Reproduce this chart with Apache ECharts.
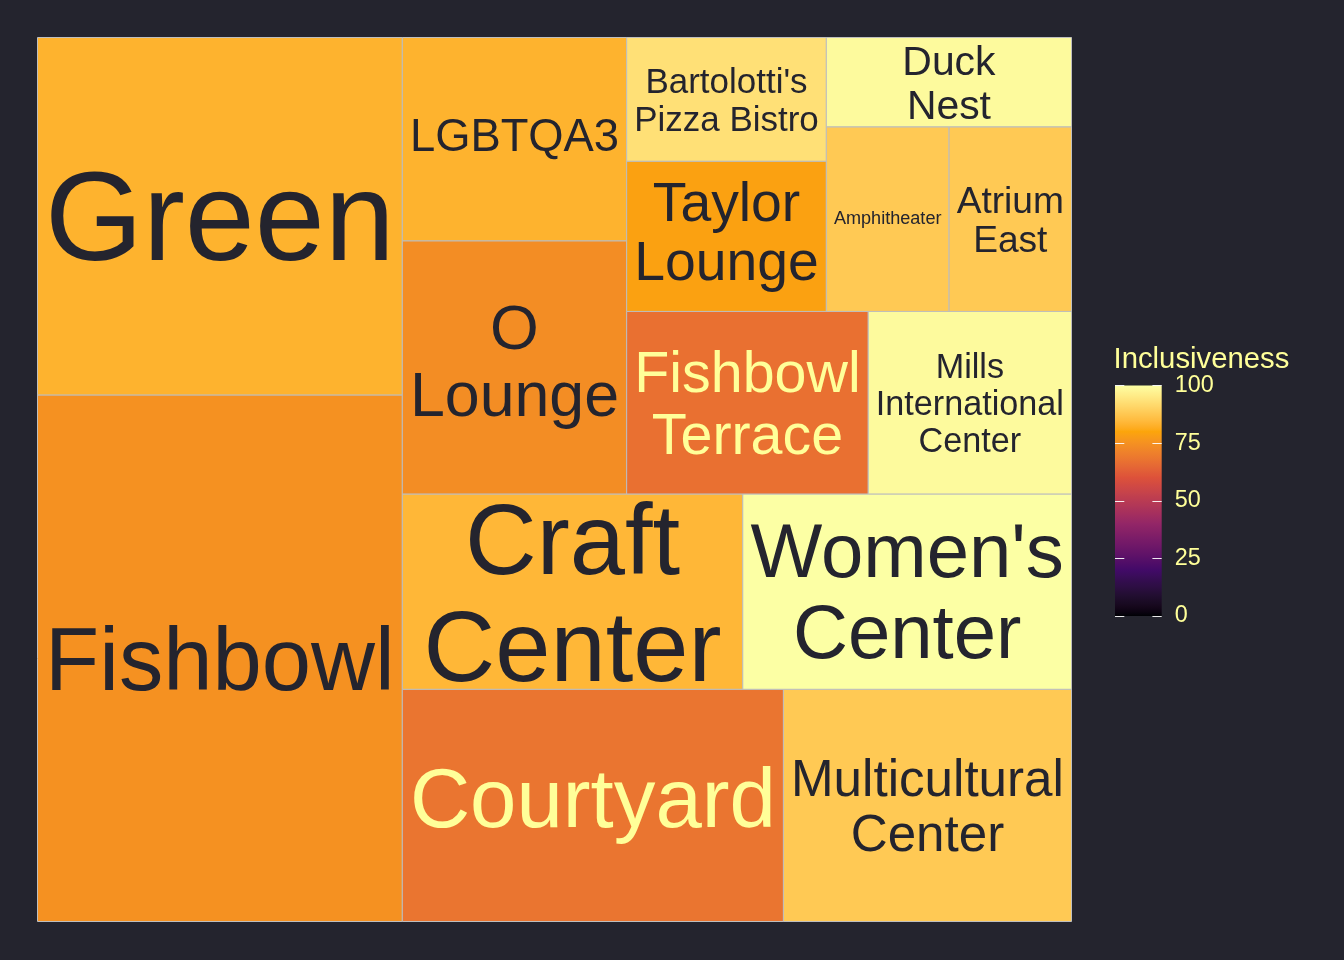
<!DOCTYPE html>
<html>
<head>
<meta charset="utf-8">
<script src="https://cdn.jsdelivr.net/npm/echarts@6/dist/echarts.min.js"></script>
<style>
html,body{margin:0;padding:0;background:#24242e;}
#chart{width:1344px;height:960px;}
</style>
</head>
<body>
<div id="chart"></div>
<script>
// ---------------- data ----------------
const places = ["Fishbowl", "Green", "Courtyard", "Multicultural Center", "Craft Center",
  "Women's Center", "O Lounge", "LGBTQA3", "Fishbowl Terrace", "Mills International Center",
  "Taylor Lounge", "Bartolotti's Pizza Bistro", "Amphitheater", "Atrium East", "Duck Nest"];
const displayLabels = ["Fishbowl", "Green", "Courtyard", "Multicultural\nCenter", "Craft\nCenter",
  "Women's\nCenter", "O\nLounge", "LGBTQA3", "Fishbowl\nTerrace", "Mills\nInternational\nCenter",
  "Taylor\nLounge", "Bartolotti's\nPizza Bistro", "Amphitheater", "Atrium\nEast", "Duck\nNest"];
const sizes = [192.1, 130.4, 88.5, 66.9, 66.5, 64.2, 56.8, 45.6, 44.1, 37.1, 30.0, 24.7, 22.65, 22.6, 21.9];
const inclusiveness = [75, 83, 68, 88, 84, 100, 74, 83, 67, 99, 79, 93, 88, 88, 99];
const legendTicks = [0, 25, 50, 75, 100];
const legendTitle = "Inclusiveness";
const infernoAnchors = ["#000004", "#420A68", "#932667", "#DD513A", "#FCA50A", "#FCFFA4"];

// ---------------- style ----------------
const BG = '#24242e';
const DARK_TEXT = '#24242e';
const LIGHT_TEXT = '#ffff99';
const FONT = '"Liberation Sans", Arial, Helvetica, sans-serif';
const PAD = 7.56;       // 1 mm at 192 dpi
const LINE_H = 1.075;   // line spacing in em

// ---------------- colour helpers (Lab interpolation like scales::gradient_n_pal) -------------
function hexToRgb(h){ h=h.replace('#',''); return [0,2,4].map(i=>parseInt(h.substr(i,2),16)); }
function s2l(c){ c/=255; return c<=0.04045? c/12.92 : Math.pow((c+0.055)/1.055,2.4); }
function l2s(c){ c = c<=0.0031308 ? 12.92*c : 1.055*Math.pow(Math.max(c,0),1/2.4)-0.055; return Math.round(Math.min(1,Math.max(0,c))*255); }
const WX=0.95047, WY=1.0, WZ=1.08883;
function rgbToLab(rgb){
  const [r,g,b]=rgb.map(s2l);
  const X=(0.4124564*r+0.3575761*g+0.1804375*b)/WX;
  const Y=(0.2126729*r+0.7151522*g+0.0721750*b)/WY;
  const Z=(0.0193339*r+0.1191920*g+0.9503041*b)/WZ;
  const f=t=> t>216/24389 ? Math.cbrt(t) : (24389/27*t+16)/116;
  const fx=f(X), fy=f(Y), fz=f(Z);
  return [116*fy-16, 500*(fx-fy), 200*(fy-fz)];
}
function labToRgb(lab){
  const [L,a,b]=lab;
  const fy=(L+16)/116, fx=fy+a/500, fz=fy-b/200;
  const inv=t=> t*t*t>216/24389 ? t*t*t : (116*t-16)/(24389/27);
  const X=inv(fx)*WX, Y=inv(fy)*WY, Z=inv(fz)*WZ;
  const r= 3.2404542*X-1.5371385*Y-0.4985314*Z;
  const g=-0.9692660*X+1.8760108*Y+0.0415560*Z;
  const bb=0.0556434*X-0.2040259*Y+1.0572252*Z;
  return [l2s(r),l2s(g),l2s(bb)];
}
const anchorLab = infernoAnchors.map(c=>rgbToLab(hexToRgb(c)));
function paletteAt(t){
  const n = anchorLab.length-1;
  const seg = Math.min(n-1, Math.floor(t*n));
  const u = t*n - seg;
  const A = anchorLab[seg], B = anchorLab[seg+1];
  const rgb = labToRgb([0,1,2].map(k=>A[k]+(B[k]-A[k])*u));
  return 'rgb('+rgb.join(',')+')';
}
const palette = [];
for (let i=0;i<=100;i++) palette.push(paletteAt(i/100));

// ---------------- squarified layout in unit square (origin bottom-left) ----------------
function squarify(values){
  const total = values.reduce((a,b)=>a+b,0);
  const order = values.map((v,i)=>i).sort((a,b)=>values[b]-values[a]);
  const areas = order.map(i=>values[i]/total);
  const out = new Array(values.length);
  let x=0, y=0, w=1, h=1, k=0;
  const worst=(row,side)=>{
    const s=row.reduce((a,b)=>a+b,0), mx=Math.max(...row), mn=Math.min(...row);
    return Math.max(side*side*mx/(s*s), s*s/(side*side*mn));
  };
  while (k < areas.length){
    const horizontal = w < h;
    const side = horizontal ? w : h;
    const row=[areas[k]]; let j=k+1;
    while (j < areas.length){
      const cand=row.concat([areas[j]]);
      if (worst(cand,side) <= worst(row,side)) { row.push(areas[j]); j++; } else break;
    }
    const s=row.reduce((a,b)=>a+b,0);
    const thick = s/side;
    let pos = horizontal ? x : y;
    row.forEach((a,r)=>{
      const len=a/thick, idx=order[k+r];
      out[idx] = horizontal ? [pos, y, pos+len, y+thick] : [x, pos, x+thick, pos+len];
      pos += len;
    });
    if (horizontal){ y+=thick; h-=thick; } else { x+=thick; w-=thick; }
    k=j;
  }
  return out;
}
const layout = squarify(sizes);
const tileData = places.map((p,i)=>({name:p, value:[layout[i][0], layout[i][1], layout[i][2], layout[i][3], inclusiveness[i], i]}));

// ---------------- text measuring ----------------
const mctx = document.createElement('canvas').getContext('2d');
function measure(line){
  mctx.font = '100px ' + FONT;
  mctx.textBaseline = 'alphabetic';
  const m = mctx.measureText(line);
  mctx.textBaseline = 'middle';
  const m2 = mctx.measureText(line);
  return {w:m.width/100, asc:m.actualBoundingBoxAscent/100, desc:Math.max(0,m.actualBoundingBoxDescent)/100,
          off:(m.actualBoundingBoxAscent - m2.actualBoundingBoxAscent)/100};
}

function renderTile(params, api){
  const i = api.value(5);
  const p0 = api.coord([api.value(0), api.value(1)]);
  const p1 = api.coord([api.value(2), api.value(3)]);
  const rx=p0[0], ry=p1[1], rw=p1[0]-p0[0], rh=p0[1]-p1[1];
  const fill = api.visual('color');
  const rgb = echarts.color.parse(fill);
  const L = rgbToLab([rgb[0],rgb[1],rgb[2]])[0];
  const textColor = L < 66 ? LIGHT_TEXT : DARK_TEXT;
  const lines = displayLabels[i].split('\n');
  const ms = lines.map(measure);
  const maxW = Math.max(...ms.map(m=>m.w));
  const inkH = ms[0].asc + (lines.length-1)*LINE_H + ms[ms.length-1].desc;
  const fs = Math.min((rw-2*PAD)/maxW, (rh-2*PAD)/inkH);
  const cx = rx+rw/2, cy = ry+rh/2;
  const top = cy - inkH*fs/2;
  const children = [{
    type:'rect', shape:{x:rx, y:ry, width:rw, height:rh},
    style:{fill:fill, stroke:'#bebebe', lineWidth:1}
  }];
  lines.forEach((ln,k)=>{
    const base = top + ms[0].asc*fs + k*LINE_H*fs;
    children.push({
      type:'text',
      style:{text:ln, x:cx, y:base - ms[k].off*fs, align:'center', verticalAlign:'middle',
             fontSize:fs, fontFamily:FONT, fill:textColor}
    });
  });
  return {type:'group', children};
}

function renderBar(params, api){
  const p0 = api.coord([0, legendTicks[0]]);
  const p1 = api.coord([1, legendTicks[legendTicks.length-1]]);
  const stops = palette.map((c,k)=>({offset:k/(palette.length-1), color:c}));
  return {type:'rect', shape:{x:p0[0], y:p1[1], width:p1[0]-p0[0], height:p0[1]-p1[1]},
          style:{fill:new echarts.graphic.LinearGradient(0,1,0,0,stops)}};
}

const chart = echarts.init(document.getElementById('chart'), null, {renderer:'canvas'});
const tickCommon = {show:true, inside:true, length:9.3, customValues:legendTicks, lineStyle:{color:'rgba(255,255,255,0.9)', width:1}};
chart.setOption({
  backgroundColor: BG,
  animation: false,
  title: {text: legendTitle, left: 1113.5, top: 345, padding: 0,
          textStyle: {color: LIGHT_TEXT, fontSize: 29.3, fontWeight: 'normal', fontFamily: FONT}},
  grid: [
    {left: 37.5, top: 37.5, width: 1034, height: 884},
    {left: 1115, top: 385.5, width: 46.7, height: 230.5}
  ],
  xAxis: [
    {type:'value', gridIndex:0, min:0, max:1, show:false},
    {type:'value', gridIndex:1, min:0, max:1, show:false}
  ],
  yAxis: [
    {type:'value', gridIndex:0, min:0, max:1, show:false},
    {type:'value', gridIndex:1, min:legendTicks[0], max:legendTicks[legendTicks.length-1], interval:25, position:'left', z:10,
     axisLine:{show:false}, splitLine:{show:false}, axisLabel:{show:false}, axisTick:tickCommon},
    {type:'value', gridIndex:1, min:legendTicks[0], max:legendTicks[legendTicks.length-1], interval:25, position:'right', z:10,
     axisLine:{show:false}, splitLine:{show:false}, axisTick:tickCommon,
     axisLabel:{show:true, customValues:legendTicks, margin:13, color:LIGHT_TEXT, fontSize:23.4, fontFamily:FONT,
                verticalAlign:'middle', lineHeight:23.4, padding:[7,0,0,0]}}
  ],
  visualMap: {type:'continuous', show:false, min:0, max:100, dimension:4, seriesIndex:0, inRange:{color:palette}},
  series: [
    {type:'custom', xAxisIndex:0, yAxisIndex:0, renderItem:renderTile, data:tileData, encode:{x:[0,2], y:[1,3]}, clip:false},
    {type:'custom', xAxisIndex:1, yAxisIndex:1, renderItem:renderBar, data:[[0,0,1,100]], z:1, silent:true}
  ]
});
</script>
</body>
</html>
